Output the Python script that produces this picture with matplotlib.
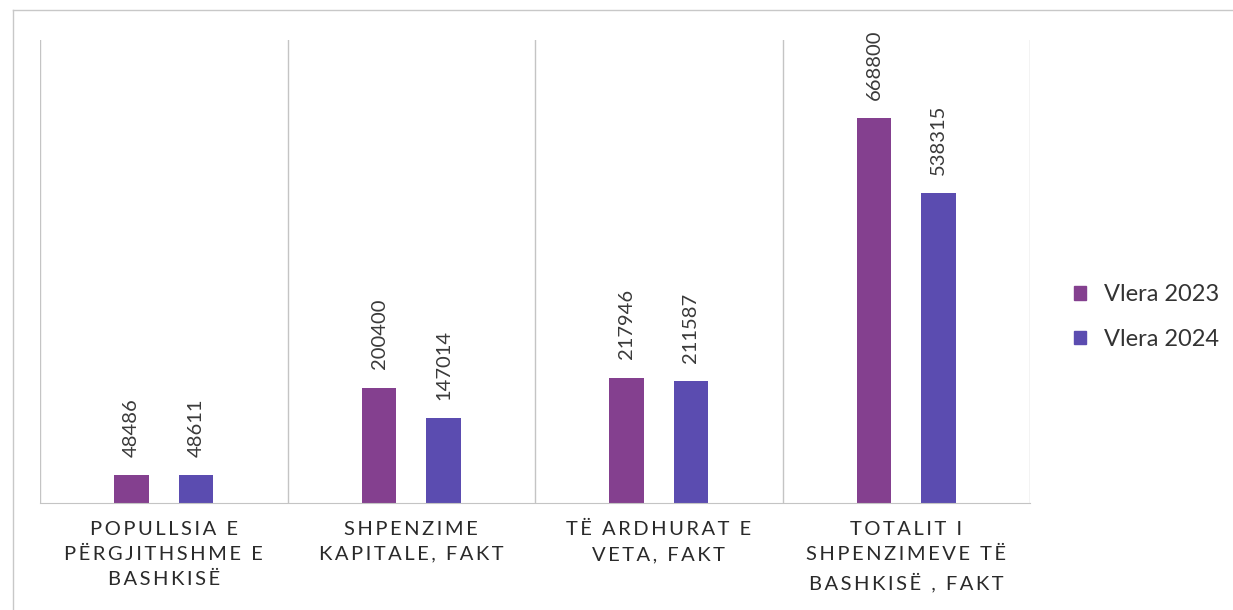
import numpy as np
import matplotlib
matplotlib.use("Agg")
import matplotlib.pyplot as plt
from matplotlib.lines import Line2D
from matplotlib.patches import Patch

# Te dhenat
categories = ["POPULLSIA E\nPËRGJITHSHME E\nBASHKISË",
              "SHPENZIME\nKAPITALE, FAKT",
              "TË ARDHURAT E\nVETA, FAKT",
              "TOTALIT I\nSHPENZIMEVE TË\nBASHKISË , FAKT"]
vlera_2023 = [48486, 200400, 217946, 668800]
vlera_2024 = [48611, 147014, 211587, 538315]
series_names = ["Vlera 2023", "Vlera 2024"]
colors = ["#84408F", "#5B4CB0"]

plt.rcParams['font.family'] = ['Lato', 'DejaVu Sans']


def spaced(txt):
    # hapesire e holle mes shkronjave, si ne origjinal
    return "\n".join("\u2009".join(line) for line in txt.split("\n"))


fig = plt.figure(figsize=(12.33, 6.10), dpi=100)
ax = fig.add_axes([40 / 1233, 107 / 610, 990 / 1233, 463 / 610])

x = np.arange(len(categories))
offset = 0.13
width = 0.14
for vals, off, col in [(vlera_2023, -offset, colors[0]), (vlera_2024, offset, colors[1])]:
    bars = ax.bar(x + off, vals, width=width, color=col, zorder=2)
    for b, v in zip(bars, vals):
        ax.text(b.get_x() + b.get_width() / 2, v + 32000, str(v),
                rotation=90, ha="center", va="bottom", fontsize=14.5,
                color="#3a3a3a")

ax.set_xlim(-0.5, len(categories) - 0.5)
ax.set_ylim(0, 805000)

# vijat vertikale ndermjet kategorive
for xv in np.arange(-0.5, len(categories), 1.0):
    ax.axvline(xv, color="#c4c4c4", lw=1.0, zorder=1)

for s in ["top", "left", "right"]:
    ax.spines[s].set_visible(False)
ax.spines["bottom"].set_color("#c4c4c4")
ax.set_yticks([])
ax.set_xticks(x)
ax.set_xticklabels([spaced(c) for c in categories], fontsize=14.5,
                   color="#2a2a2a", linespacing=1.55)
ax.tick_params(axis="x", length=0, pad=13)

handles = [Patch(color=c) for c in colors]
fig.legend(handles, series_names, loc="center left", bbox_to_anchor=(1053 / 1233, 293 / 610),
           frameon=False, fontsize=17, handlelength=0.5, handleheight=0.5,
           handletextpad=0.75, labelspacing=1.0, labelcolor="#333333")

# korniza e faqes se skanuar
fig.add_artist(Line2D([13 / 1233, 1], [1 - 10 / 610, 1 - 10 / 610], color="#c8c8c8", lw=1))
fig.add_artist(Line2D([13 / 1233, 13 / 1233], [0, 1 - 10 / 610], color="#c8c8c8", lw=1))

fig.savefig("out.png", dpi=100)
